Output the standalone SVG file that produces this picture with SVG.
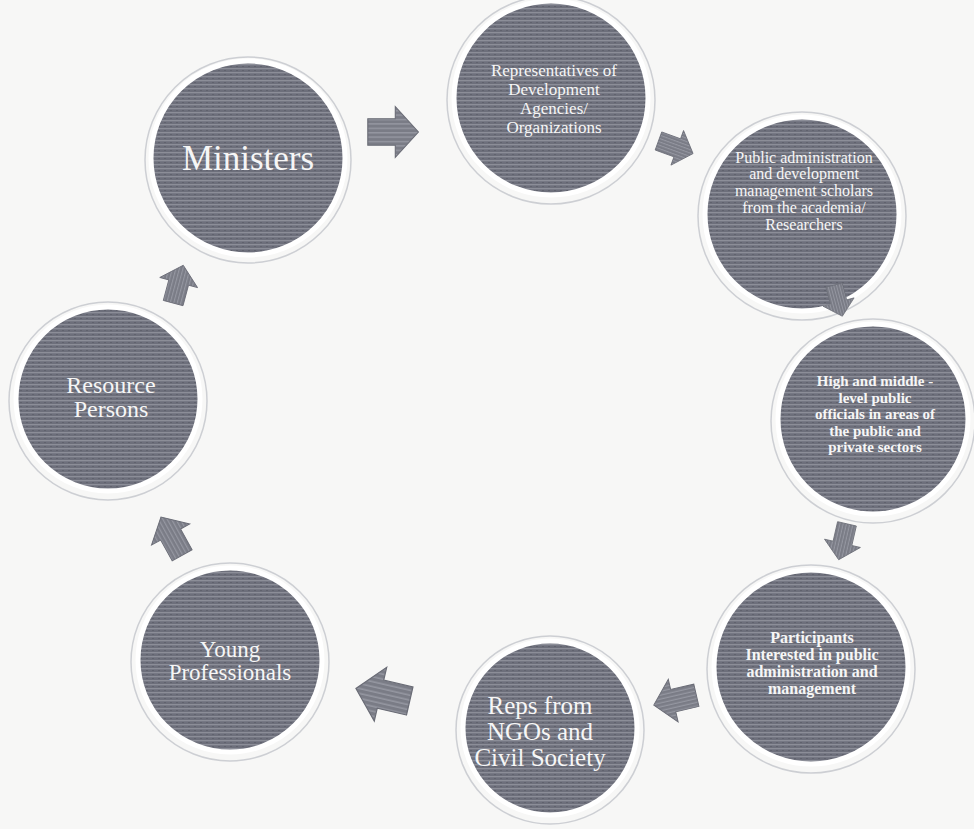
<svg xmlns="http://www.w3.org/2000/svg" width="974" height="829" viewBox="0 0 974 829">
  <defs>
    <pattern id="tex" width="6" height="4" patternUnits="userSpaceOnUse">
      <rect width="6" height="4" fill="#6d6f7b"/>
      <rect y="0" width="6" height="1.3" fill="#8c8e98"/>
      <rect x="2" y="2.2" width="2" height="0.8" fill="#5c5e6a"/>
    </pattern>
    <pattern id="tex2" width="5" height="4" patternUnits="userSpaceOnUse">
      <rect width="5" height="4" fill="#7a7c86"/>
      <rect y="0" width="5" height="1.3" fill="#9597a1"/>
    </pattern>
    <polygon id="arw" points="-22,-12 3,-12 3,-23 24,0 3,23 3,12 -22,12"/>
  </defs>
  <style>
    .disc { fill: url(#tex); stroke: #ffffff; stroke-width: 5; }
    .ring { fill: none; stroke: #c2c4ca; stroke-width: 1.5; opacity: 0.8; }
    .lbl { fill: #f6f6f6; font-family: "Liberation Serif", "Times New Roman", serif; text-anchor: middle; }
    .lblb { fill: #f6f6f6; font-family: "Liberation Serif", "Times New Roman", serif; font-weight: bold; text-anchor: middle; }
    .arrow { fill: url(#tex2); stroke: #6a6c76; stroke-width: 1; }
  </style>
  <rect width="974" height="829" fill="#f7f7f6"/>

  <g id="ministers">
    <circle class="ring" cx="248" cy="160" r="103"/>
    <circle class="disc" cx="248" cy="158" r="97"/>
    <text class="lbl" x="248" y="170" font-size="35">Ministers</text>
  </g>

  <g id="dev-agencies">
    <circle class="ring" cx="551" cy="100" r="104"/>
    <circle class="disc" cx="551" cy="98" r="97"/>
    <text class="lbl" x="554" y="76" font-size="17">Representatives of</text>
    <text class="lbl" x="554" y="95" font-size="17">Development</text>
    <text class="lbl" x="554" y="114" font-size="17">Agencies/</text>
    <text class="lbl" x="554" y="133" font-size="17">Organizations</text>
  </g>

  <g id="scholars">
    <circle class="ring" cx="802" cy="216" r="104"/>
    <circle class="disc" cx="802" cy="214" r="97"/>
    <text class="lbl" x="804" y="163" font-size="16">Public administration</text>
    <text class="lbl" x="804" y="179" font-size="16">and development</text>
    <text class="lbl" x="804" y="196" font-size="16">management scholars</text>
    <text class="lbl" x="804" y="213" font-size="16">from the academia/</text>
    <text class="lbl" x="804" y="230" font-size="16">Researchers</text>
  </g>

  <g id="officials">
    <circle class="ring" cx="873" cy="421" r="102"/>
    <circle class="disc" cx="873" cy="419" r="95"/>
    <text class="lblb" x="875" y="386" font-size="15">High and middle -</text>
    <text class="lblb" x="875" y="402.5" font-size="15">level public</text>
    <text class="lblb" x="875" y="419" font-size="15">officials in areas of</text>
    <text class="lblb" x="875" y="435.5" font-size="15">the public and</text>
    <text class="lblb" x="875" y="452" font-size="15">private sectors</text>
  </g>

  <g id="participants">
    <circle class="ring" cx="811" cy="669" r="104"/>
    <circle class="disc" cx="811" cy="667" r="97"/>
    <text class="lblb" x="812" y="643" font-size="16">Participants</text>
    <text class="lblb" x="812" y="660" font-size="16">Interested in public</text>
    <text class="lblb" x="812" y="677" font-size="16">administration and</text>
    <text class="lblb" x="812" y="694" font-size="16">management</text>
  </g>

  <g id="ngos">
    <circle class="ring" cx="550" cy="730" r="94"/>
    <circle class="disc" cx="550" cy="728" r="87"/>
    <text class="lbl" x="540" y="714" font-size="25">Reps from</text>
    <text class="lbl" x="540" y="740" font-size="25">NGOs and</text>
    <text class="lbl" x="540" y="766" font-size="25">Civil Society</text>
  </g>

  <g id="young">
    <circle class="ring" cx="230" cy="662" r="99"/>
    <circle class="disc" cx="230" cy="660" r="92"/>
    <text class="lbl" x="230" y="657" font-size="23">Young</text>
    <text class="lbl" x="230" y="680" font-size="23">Professionals</text>
  </g>

  <g id="resource">
    <circle class="ring" cx="108" cy="401" r="99"/>
    <circle class="disc" cx="108" cy="399" r="92"/>
    <text class="lbl" x="111" y="393" font-size="24">Resource</text>
    <text class="lbl" x="111" y="417" font-size="24">Persons</text>
  </g>

  <g id="connectors">
    <use href="#arw" class="arrow" transform="translate(392,132) scale(1.1)"/>
    <use href="#arw" class="arrow" transform="translate(675,147) rotate(20) scale(0.8)"/>
    <use href="#arw" class="arrow" transform="translate(838,300) rotate(75) scale(0.7)"/>
    <use href="#arw" class="arrow" transform="translate(843,541) rotate(103) scale(0.8)"/>
    <use href="#arw" class="arrow" transform="translate(676,700) rotate(167) scale(0.95)"/>
    <use href="#arw" class="arrow" transform="translate(384,695) rotate(193) scale(1.2)"/>
    <use href="#arw" class="arrow" transform="translate(172,537) rotate(241) scale(0.95)"/>
    <use href="#arw" class="arrow" transform="translate(178,285) rotate(-75) scale(0.85)"/>
  </g>
</svg>
